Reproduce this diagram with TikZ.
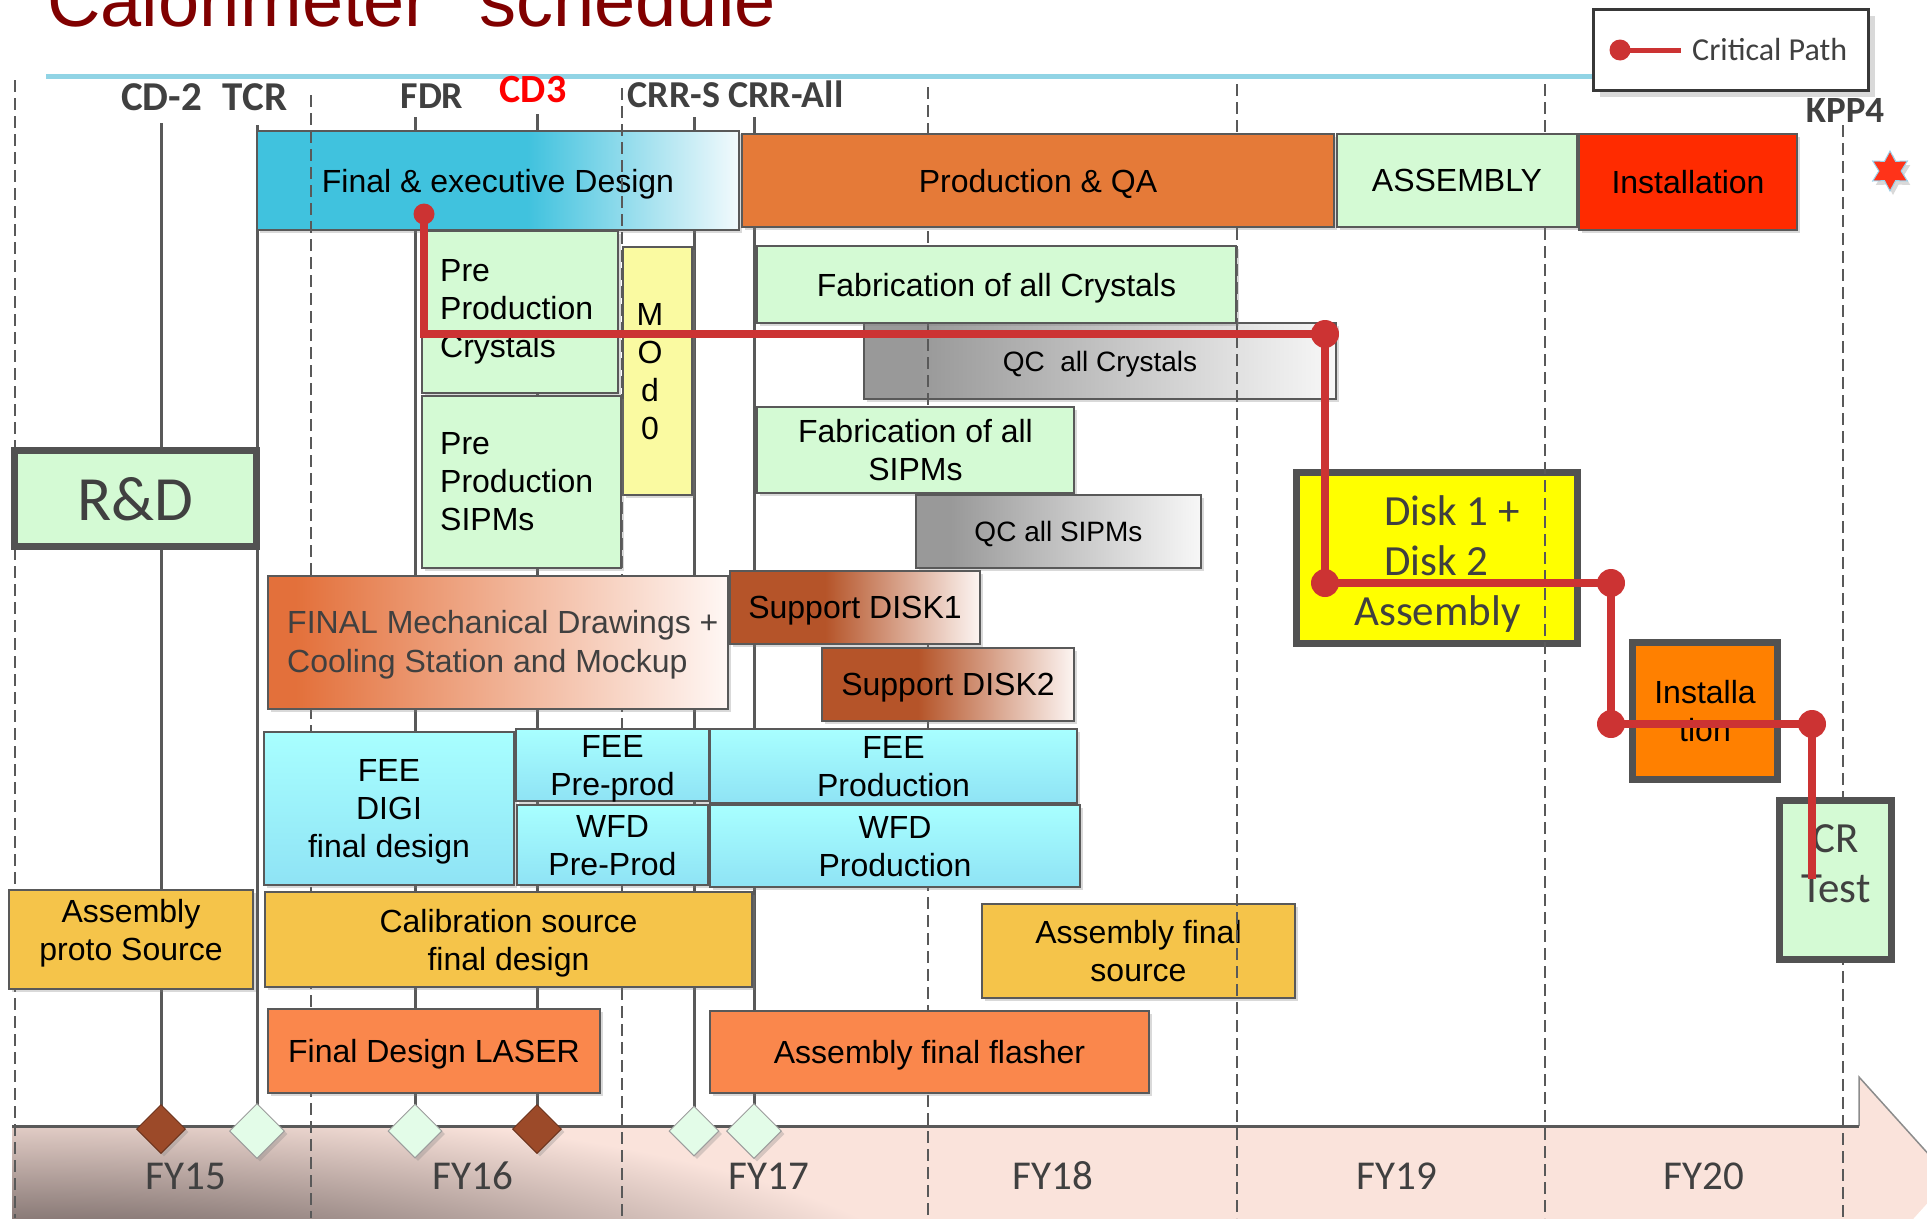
\documentclass[tikz,border=0pt]{standalone}
\usepackage{fontspec}
\setmainfont{Liberation Sans}
\newfontfamily\calibri{Carlito}
\usepackage{tikz}
\usetikzlibrary{shapes.geometric, shadows, positioning, calc}

\definecolor{TitleRed}{rgb}{0.50,0.0,0.0}
\definecolor{CyanRule}{rgb}{0.57,0.83,0.90}
\definecolor{TextGray}{rgb}{0.25,0.25,0.25}
\definecolor{BoxLine}{rgb}{0.35,0.35,0.35}
\definecolor{RimGray}{rgb}{0.32,0.32,0.32}
\definecolor{LegendLine}{rgb}{0.22,0.22,0.22}
\definecolor{DesignBlue}{rgb}{0.25,0.76,0.87}
\definecolor{DesignWhite}{rgb}{0.95,0.98,0.99}
\definecolor{ProdOrange}{rgb}{0.90,0.48,0.22}
\definecolor{PaleGreen}{rgb}{0.83,0.98,0.83}
\definecolor{InstRed}{rgb}{1.0,0.17,0.0}
\definecolor{ModYellow}{rgb}{0.98,0.98,0.63}
\definecolor{QcGray}{rgb}{0.60,0.60,0.60}
\definecolor{QcWhite}{rgb}{0.97,0.97,0.97}
\definecolor{MechOrange}{rgb}{0.89,0.44,0.23}
\definecolor{MechWhite}{rgb}{1.0,0.97,0.96}
\definecolor{SupportBrown}{rgb}{0.71,0.33,0.16}
\definecolor{SupportWhite}{rgb}{0.99,0.96,0.95}
\definecolor{FeeTop}{rgb}{0.66,1.0,1.0}
\definecolor{FeeBottom}{rgb}{0.56,0.89,0.96}
\definecolor{Gold}{rgb}{0.96,0.77,0.29}
\definecolor{Laser}{rgb}{0.98,0.53,0.30}
\definecolor{DiskYellow}{rgb}{1.0,1.0,0.0}
\definecolor{InstOrange}{rgb}{1.0,0.50,0.0}
\definecolor{CritRed}{rgb}{0.80,0.20,0.20}
\definecolor{CdRed}{rgb}{1.0,0.0,0.0}
\definecolor{Peach}{rgb}{0.98,0.89,0.86}
\definecolor{BandDark}{rgb}{0.24,0.20,0.20}
\definecolor{MsBrown}{rgb}{0.61,0.29,0.16}
\definecolor{MsGreen}{rgb}{0.89,0.99,0.91}
\definecolor{StarRed}{rgb}{1.0,0.20,0.10}
\definecolor{StarEdge}{rgb}{0.60,0.82,0.92}

\pgfdeclarehorizontalshading{designfade}{100bp}{color(0bp)=(DesignBlue); color(53bp)=(DesignBlue); color(75bp)=(DesignWhite); color(100bp)=(DesignWhite)}
\pgfdeclarehorizontalshading{mechfade}{100bp}{color(0bp)=(MechOrange); color(28bp)=(MechOrange); color(75bp)=(MechWhite); color(100bp)=(MechWhite)}
\pgfdeclarehorizontalshading{diskfade}{100bp}{color(0bp)=(SupportBrown); color(44bp)=(SupportBrown); color(75bp)=(SupportWhite); color(100bp)=(SupportWhite)}
\pgfdeclarehorizontalshading{qcfade}{100bp}{color(0bp)=(QcGray); color(31bp)=(QcGray); color(75bp)=(QcWhite); color(100bp)=(QcWhite)}

\begin{document}
\begin{tikzpicture}[x=1pt, y=-1pt,
    box/.style={draw=BoxLine, line width=2pt, inner sep=0pt, align=center, text depth=-3pt,
        font=\fontsize{32}{38}\selectfont,
        drop shadow={shadow xshift=3pt, shadow yshift=-3pt, opacity=0.3}},
    heavybox/.style={box, draw=RimGray, line width=7pt},
    boxtext/.style={inner sep=0pt, font=\fontsize{32}{38}\selectfont},
    wh/.style 2 args={minimum width=#1pt, minimum height=#2pt},
    feebox/.style={box, top color=FeeTop, bottom color=FeeBottom},
    msline/.style={draw=BoxLine, line width=3pt},
    fyline/.style={draw=BoxLine, line width=2pt, dash pattern=on 12pt off 6pt},
    critpath/.style={draw=CritRed, line width=8pt},
    milestone/.style={diamond, aspect=1, inner sep=0pt, minimum width=#1pt, minimum height=#1pt,
        line width=1pt, drop shadow={shadow xshift=3pt, shadow yshift=-3pt, opacity=0.3}},
    mslabel/.style={anchor=base, inner sep=0pt, text=TextGray, font=\calibri\bfseries\fontsize{38}{38}\selectfont},
    fylabel/.style={anchor=base, inner sep=0pt, text=TextGray, font=\calibri\fontsize{41}{41}\selectfont}
]

    \useasboundingbox (0,0) rectangle (1927,1218);
    \clip (0,0) rectangle (1927,1218);

    % time arrow
    \fill[Peach] (12,1126) -- (1859,1126) -- (1859,1077) -- (1950,1178)
        -- (1859,1279) -- (1859,1240) -- (12,1240) -- cycle;
    \begin{scope}
        \clip (12,1126) -- (1859,1126) -- (1859,1077) -- (1950,1178)
            -- (1859,1279) -- (1859,1240) -- (12,1240) -- cycle;
        \shade[inner color=BandDark, outer color=Peach] (40,1300) ellipse (900 and 200);
    \end{scope}
    \draw[black!45, line width=1.5pt] (1859,1126) -- (1859,1077) -- (1950,1178);
    \draw[BoxLine, line width=3pt] (12,1126) -- (1859,1126);

    % title and rule
    \node[anchor=base west, inner sep=0pt, text=TitleRed, font=\fontsize{74}{74}\selectfont]
        (title) at (47,26) {Calorimeter\hspace{50pt}schedule};
    \draw[CyanRule, line width=5pt] (46,76) -- (1600,76);

    % milestone lines
    \coordinate (msCDtwo) at (161,1129);
    \coordinate (msTCR) at (257,1131);
    \coordinate (msFDR) at (415,1131);
    \coordinate (msCDthree) at (537,1129);
    \coordinate (msCRRS) at (694,1131);
    \coordinate (msCRRall) at (754,1131);
    \foreach \m/\top in {msCDtwo/123, msTCR/125, msFDR/117, msCDthree/114, msCRRS/117, msCRRall/117}
        \draw[msline] (\m) -- (\m |- 0,\top);

    % boxes lying under the year lines
    \node[box, shade, shading=designfade, wh={482}{99}] (design) at (498,180.5) {Final \& executive Design};
    \node[box, shade, shading=qcfade, wh={472}{76}, font=\fontsize{28}{32}\selectfont] (qcxtal) at (1100,361) {QC\ \ all Crystals};
    \node[box, fill=Gold, wh={313}{94}] (finsrc) at (1138.5,951) {Assembly final\\source};
    \node[heavybox, fill=DiskYellow, wh={281}{171}] (diskasm) at (1437,558) {};
    \node[boxtext, align=left, text=TextGray, font=\calibri\fontsize{43}{50}\selectfont]
        (diskasmtxt) at (1437.5,564) {\hspace*{30pt}Disk 1 +\\\hspace*{30pt}Disk 2\\Assembly};

    % year lines
    \foreach \x/\top in {15/80, 311/95, 622/88, 928/87, 1237/84, 1545/84, 1843/125}
        \draw[fyline] (\x,\top) -- (\x,1218);

    % top row
    \node[box, fill=ProdOrange, wh={592}{93}] (prodqa) at (1038,180.5) {Production \& QA};
    \node[box, fill=PaleGreen, wh={240}{93}] (assembly) at (1457,180.5) {ASSEMBLY};
    \node[box, fill=InstRed, wh={218}{96}] (install) at (1688,182) {Installation};

    % crystals and sipms
    \node[box, fill=PaleGreen, wh={196}{162}] (prextal) at (520,312) {};
    \node[boxtext, align=left, anchor=west, xshift=19pt] (prextaltxt) at (prextal.west) {Pre\\Production\\Crystals};
    \node[box, fill=ModYellow, wh={69}{248}] (modzero) at (657.5,371) {};
    \node[boxtext, align=center] (modzerotxt) at (650,372) {M\\O\\d\\0};
    \node[box, fill=PaleGreen, wh={199}{172}] (presipm) at (521.5,482) {};
    \node[boxtext, align=left, anchor=west, xshift=19pt] (presipmtxt) at (presipm.west) {Pre\\Production\\SIPMs};
    \node[box, fill=PaleGreen, wh={479}{77}] (fabxtal) at (996.5,284.5) {Fabrication of all Crystals};
    \node[box, fill=PaleGreen, wh={317}{86}] (fabsipm) at (915.5,450) {Fabrication of all\\SIPMs};
    \node[box, shade, shading=qcfade, wh={285}{73}, font=\fontsize{28}{32}\selectfont] (qcsipm) at (1058.5,531.5) {QC all SIPMs};

    % R&D
    \node[heavybox, fill=PaleGreen, wh={242}{96}, text=TextGray, font=\calibri\fontsize{63}{63}\selectfont]
        (rnd) at (135.5,498.5) {R\&D};

    % mechanics
    \node[box, shade, shading=mechfade, wh={460}{133}] (mech) at (498,642.5) {};
    \node[boxtext, align=left, anchor=west, xshift=20pt, yshift=-2pt, text=TextGray,
        font=\fontsize{32}{39}\selectfont] (mechtxt) at (mech.west)
        {FINAL Mechanical Drawings +\\Cooling Station and Mockup};
    \node[box, shade, shading=diskfade, wh={250}{73}] (diskone) at (855,607.5) {Support DISK1};
    \node[box, shade, shading=diskfade, wh={252}{73}] (disktwo) at (948,684.5) {Support DISK2};

    % electronics
    \node[feebox, wh={250}{153}] (feedigi) at (389,808.5) {FEE\\DIGI\\final design};
    \node[feebox, wh={193}{72}] (feepre) at (612.5,765) {FEE\\Pre-prod};
    \node[feebox, wh={191}{80}] (wfdpre) at (612.5,845) {WFD\\Pre-Prod};
    \node[feebox, wh={367}{74}] (feeprod) at (893.5,766) {FEE\\Production};
    \node[feebox, wh={370}{82}] (wfdprod) at (895,846) {WFD\\Production};

    % calibration
    \node[box, fill=Gold, wh={244}{99}, text depth=20pt] (protosrc) at (131,939.5) {Assembly\\proto Source};
    \node[box, fill=Gold, wh={487}{95}] (calsrc) at (508.5,939.5) {Calibration source\\final design};
    \node[box, fill=Laser, wh={332}{84}] (laser) at (434,1051) {Final Design LASER};
    \node[box, fill=Laser, wh={439}{82}] (flasher) at (929.5,1052) {Assembly final flasher};

    % installation and test
    \node[heavybox, fill=InstOrange, wh={145}{137}] (instsmall) at (1705,711) {Installa\\tion};
    \node[heavybox, fill=PaleGreen, wh={112}{159}] (crtest) at (1835.5,880) {};
    \node[boxtext, align=center, text=TextGray, font=\calibri\fontsize{43}{50}\selectfont]
        (crtesttxt) at (1836,864) {CR\\Test};

    % milestones
    \node[milestone=49, fill=MsBrown, draw=MsBrown!70!black] (dmCDtwo) at (msCDtwo) {};
    \node[milestone=55, fill=MsGreen, draw=BoxLine!60] (dmTCR) at (msTCR) {};
    \node[milestone=54, fill=MsGreen, draw=BoxLine!60] (dmFDR) at (msFDR) {};
    \node[milestone=49, fill=MsBrown, draw=MsBrown!70!black] (dmCDthree) at (msCDthree) {};
    \node[milestone=50, fill=MsGreen, draw=BoxLine!60] (dmCRRS) at (msCRRS) {};
    \node[milestone=55, fill=MsGreen, draw=BoxLine!60] (dmCRRall) at (msCRRall) {};

    \node[mslabel, font=\calibri\bfseries\fontsize{41}{41}\selectfont] (cdtwo) at (161.5,110) {CD-2};
    \node[mslabel, font=\calibri\bfseries\fontsize{41}{41}\selectfont] (tcr) at (255,110) {TCR};
    \node[mslabel] (fdr) at (432,108) {FDR};
    \node[mslabel, text=CdRed, font=\calibri\bfseries\fontsize{40}{40}\selectfont] (cdthree) at (533,102) {CD3};
    \node[mslabel] (crrs) at (674,107) {CRR-S};
    \node[mslabel] (crrall) at (786,107) {CRR-All};
    \node[mslabel, font=\calibri\bfseries\fontsize{37}{37}\selectfont] (kppfour) at (1845,122) {KPP4};
    \node[star, star points=6, star point ratio=1.8, minimum size=40pt, inner sep=0pt,
        fill=StarRed, draw=StarEdge, line width=1pt,
        drop shadow={shadow xshift=3pt, shadow yshift=-4pt, opacity=0.3}] (kppstar) at (1890,171) {};

    % years
    \foreach \yr/\x in {FY15/186, FY16/473, FY17/769, FY18/1053, FY19/1397, FY20/1704}
        \node[fylabel] (\yr) at (\x,1189) {\yr};

    % critical path
    \coordinate (cpA) at (424,214);
    \coordinate (cpB) at (424,334);
    \coordinate (cpC) at (1325,334);
    \coordinate (cpD) at (1325,583);
    \coordinate (cpE) at (1611,583);
    \coordinate (cpF) at (1611,724);
    \coordinate (cpG) at (1812,724);
    \coordinate (cpH) at (1812,879);
    \draw[critpath] (cpA) -- (cpB) -- (cpC) -- (cpD) -- (cpE) -- (cpF) -- (cpG) -- (cpH);
    \fill[CritRed] (cpA) circle (10.5);
    \foreach \p in {cpC, cpD, cpE, cpF, cpG}
        \fill[CritRed] (\p) circle (14);

    % legend
    \node[draw=LegendLine, line width=3pt, fill=white, minimum width=275pt, minimum height=81pt,
        drop shadow={shadow xshift=6pt, shadow yshift=-6pt, opacity=0.3}] (legend) at (1731,50) {};
    \coordinate (legdot) at (1620,50);
    \coordinate (legend end) at (1681,50);
    \draw[CritRed, line width=5pt] (legdot) -- (legend end);
    \fill[CritRed] (legdot) circle (10.5);
    \node[anchor=base west, inner sep=0pt, text=TextGray, font=\calibri\fontsize{32}{32}\selectfont]
        (legtxt) at (1692,60) {Critical Path};

\end{tikzpicture}
\end{document}
